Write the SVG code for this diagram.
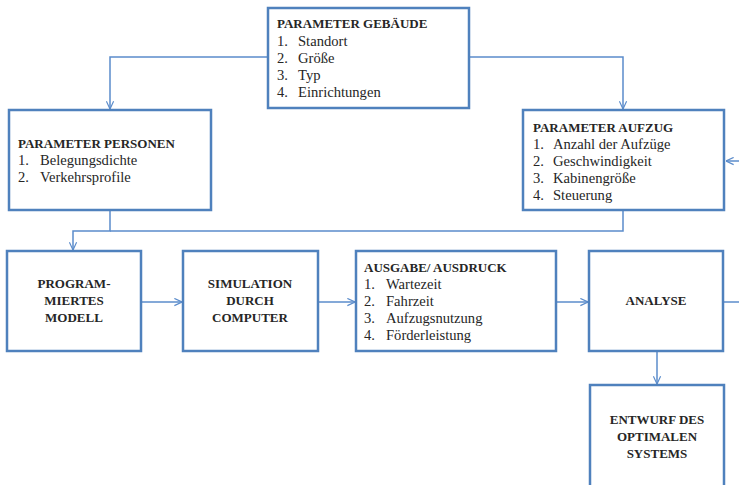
<svg xmlns="http://www.w3.org/2000/svg" width="739" height="485" viewBox="0 0 739 485">
  <style>
    .box { fill: #ffffff; stroke: #4f81bd; stroke-width: 2.5; }
    .wire { fill: none; stroke: #5b8ccb; stroke-width: 1.5; }
    text { font-family: "Liberation Serif", "DejaVu Serif", serif; font-size: 14.6px; fill: #262626; }
    .h { font-weight: bold; font-size: 13px; }
    .c { text-anchor: middle; font-weight: bold; font-size: 13px; }
  </style>
  <defs>
    <marker id="arr" viewBox="0 0 10 10" refX="9.5" refY="5" markerWidth="9" markerHeight="9" markerUnits="userSpaceOnUse" orient="auto">
      <path d="M1,1 L9.5,5 L1,9" fill="none" stroke="#5b8ccb" stroke-width="1.3"/>
    </marker>
  </defs>
  <rect width="739" height="485" fill="#ffffff"/>

  <!-- connectors -->
  <g id="connectors">
    <path class="wire" d="M268,57 H110 V109" marker-end="url(#arr)"/>
    <path class="wire" d="M470,57 H623 V109" marker-end="url(#arr)"/>
    <path class="wire" d="M110,211 V231 H73 V250" marker-end="url(#arr)"/>
    <path class="wire" d="M623,211 V231 H110"/>
    <path class="wire" d="M739,161 H726" marker-end="url(#arr)"/>
    <path class="wire" d="M141,302 H182" marker-end="url(#arr)"/>
    <path class="wire" d="M318,302 H355" marker-end="url(#arr)"/>
    <path class="wire" d="M556,302 H588" marker-end="url(#arr)"/>
    <path class="wire" d="M723,302 H739"/>
    <path class="wire" d="M657,351 V384" marker-end="url(#arr)"/>
  </g>

  <g id="gebaeude">
    <rect class="box" x="268" y="8" width="201" height="100"/>
    <text class="h" x="277" y="28">PARAMETER GEBÄUDE</text>
    <text x="277" y="46">1.</text><text x="298" y="46">Standort</text>
    <text x="277" y="63">2.</text><text x="298" y="63">Größe</text>
    <text x="277" y="80">3.</text><text x="298" y="80">Typ</text>
    <text x="277" y="97">4.</text><text x="298" y="97">Einrichtungen</text>
  </g>

  <g id="personen">
    <rect class="box" x="9" y="110" width="202" height="100"/>
    <text class="h" x="18" y="148">PARAMETER PERSONEN</text>
    <text x="18" y="165">1.</text><text x="40" y="165">Belegungsdichte</text>
    <text x="18" y="182">2.</text><text x="40" y="182">Verkehrsprofile</text>
  </g>

  <g id="aufzug">
    <rect class="box" x="523" y="110" width="201" height="100"/>
    <text class="h" x="533" y="132">PARAMETER AUFZUG</text>
    <text x="533" y="149">1.</text><text x="553" y="149">Anzahl der Aufzüge</text>
    <text x="533" y="166">2.</text><text x="553" y="166">Geschwindigkeit</text>
    <text x="533" y="183">3.</text><text x="553" y="183">Kabinengröße</text>
    <text x="533" y="200">4.</text><text x="553" y="200">Steuerung</text>
  </g>

  <g id="modell">
    <rect class="box" x="7" y="251" width="134" height="100"/>
    <text class="c" x="74" y="288">PROGRAM-</text>
    <text class="c" x="74" y="305">MIERTES</text>
    <text class="c" x="74" y="322">MODELL</text>
  </g>

  <g id="simulation">
    <rect class="box" x="183" y="251" width="135" height="100"/>
    <text class="c" x="250" y="288">SIMULATION</text>
    <text class="c" x="250" y="305">DURCH</text>
    <text class="c" x="250" y="322">COMPUTER</text>
  </g>

  <g id="ausgabe">
    <rect class="box" x="356" y="251" width="200" height="100"/>
    <text class="h" x="364" y="272">AUSGABE/ AUSDRUCK</text>
    <text x="364" y="289">1.</text><text x="386" y="289">Wartezeit</text>
    <text x="364" y="306">2.</text><text x="386" y="306">Fahrzeit</text>
    <text x="364" y="323">3.</text><text x="386" y="323">Aufzugsnutzung</text>
    <text x="364" y="340">4.</text><text x="386" y="340">Förderleistung</text>
  </g>

  <g id="analyse">
    <rect class="box" x="589" y="251" width="134" height="100"/>
    <text class="c" x="656" y="305">ANALYSE</text>
  </g>

  <g id="entwurf">
    <rect class="box" x="590" y="385" width="134" height="110"/>
    <text class="c" x="657" y="424">ENTWURF DES</text>
    <text class="c" x="657" y="441">OPTIMALEN</text>
    <text class="c" x="657" y="458">SYSTEMS</text>
  </g>
</svg>
